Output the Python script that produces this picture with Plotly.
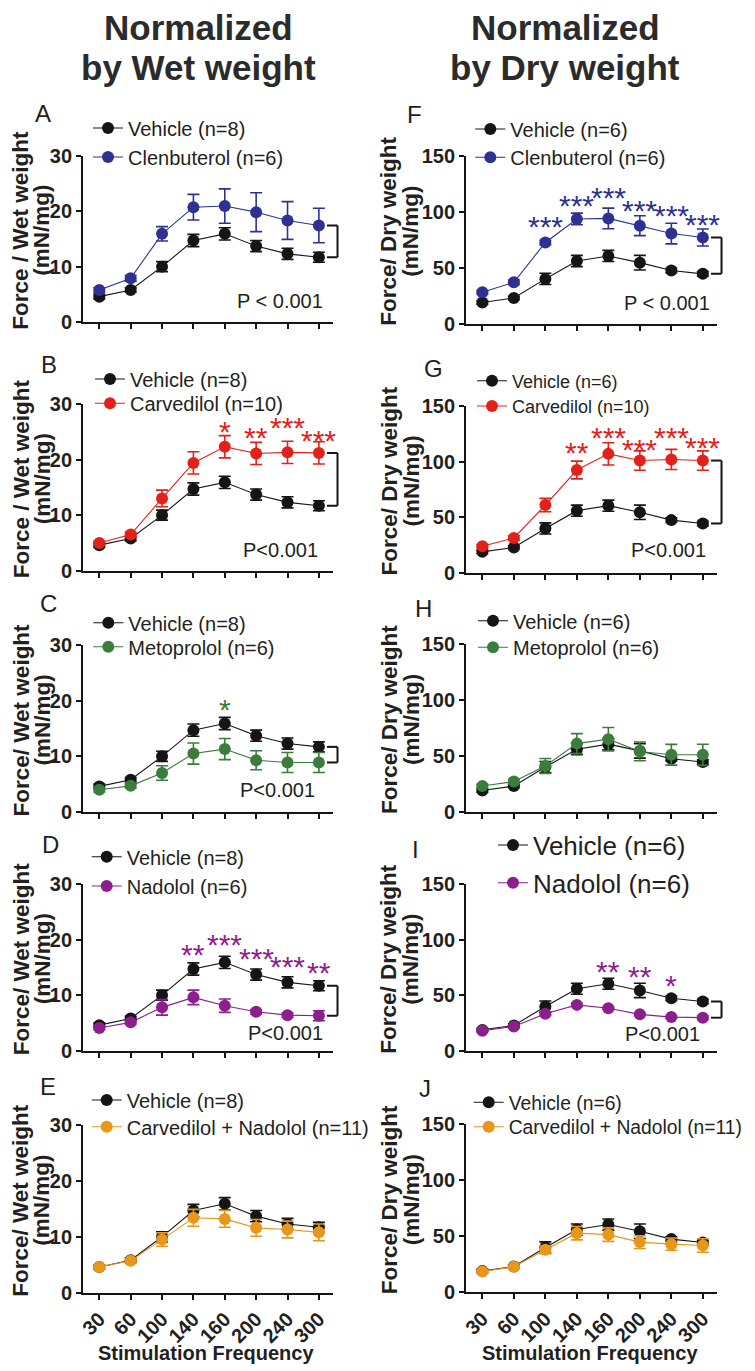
import plotly.graph_objects as go

W, H = 755, 1371
OFF = 8                      # page body margin around the plot div
FW, FH = W - OFF, H - OFF    # figure size so that the page fits the window
FONT = "Liberation Sans, Arial, Helvetica, sans-serif"
TXT = "#231f20"

# ---------------- data ----------------
freq_labels = ["30", "60", "100", "140", "160", "200", "240", "300"]
x_idx = list(range(len(freq_labels)))

veh_wet = [4.6, 5.8, 10.0, 14.7, 15.9, 13.7, 12.3, 11.7]
veh_wet_err = [0.4, 0.4, 0.9, 1.1, 1.1, 1.0, 1.0, 0.9]
veh_dry = [19.0, 23.0, 40.0, 56.0, 60.5, 54.5, 47.5, 44.5]
veh_dry_err = [1.5, 1.5, 5.0, 5.0, 5.0, 6.5, 2.0, 2.0]

clen_wet = [5.8, 7.9, 15.9, 20.7, 20.9, 19.8, 18.3, 17.4]
clen_wet_err = [0.4, 0.5, 1.3, 2.3, 3.1, 3.5, 3.4, 3.1]
clen_dry = [28.0, 37.0, 72.5, 93.5, 94.0, 87.5, 80.5, 77.0]
clen_dry_err = [1.5, 2.0, 2.0, 5.2, 9.2, 8.9, 9.2, 7.6]

carv_wet = [5.0, 6.5, 13.0, 19.4, 22.3, 21.1, 21.3, 21.2]
carv_wet_err = [0.3, 0.4, 1.5, 2.0, 2.0, 2.0, 2.0, 2.0]
carv_dry = [24.0, 31.5, 61.0, 92.5, 107.0, 101.0, 102.0, 101.0]
carv_dry_err = [1.5, 2.0, 6.0, 8.0, 10.0, 8.7, 9.0, 8.7]

meto_wet = [4.0, 4.7, 7.0, 10.5, 11.3, 9.3, 8.9, 8.9]
meto_wet_err = [0.4, 0.4, 1.3, 1.9, 1.9, 1.7, 1.8, 1.8]
meto_dry = [23.0, 27.0, 41.0, 61.0, 65.0, 54.0, 51.0, 51.0]
meto_dry_err = [1.5, 2.0, 6.7, 9.0, 10.5, 8.4, 9.3, 9.5]

nad_wet = [4.1, 5.1, 7.8, 9.6, 8.1, 7.0, 6.4, 6.3]
nad_wet_err = [0.3, 0.3, 1.4, 1.3, 1.2, 0.4, 0.4, 0.9]
nad_dry = [18.3, 22.0, 33.5, 41.5, 38.5, 33.0, 30.5, 30.0]
nad_dry_err = [1.0, 1.0, 1.5, 1.5, 1.0, 1.0, 1.0, 1.5]

cn_wet = [4.6, 5.7, 9.5, 13.4, 13.2, 11.6, 11.3, 10.8]
cn_wet_err = [0.3, 0.3, 1.2, 1.5, 1.5, 1.5, 1.5, 1.5]
cn_dry = [18.5, 22.8, 38.0, 52.8, 51.5, 44.8, 43.0, 41.8]
cn_dry_err = [1.0, 1.0, 3.5, 6.0, 6.0, 5.7, 5.5, 6.0]

stars_none = ["", "", "", "", "", "", "", ""]
stars_B = ["", "", "", "", "*", "**", "***", "***"]
stars_C = ["", "", "", "", "*", "", "", ""]
stars_D = ["", "", "", "**", "***", "***", "***", "**"]
stars_F = ["", "", "***", "***", "***", "***", "***", "***"]
stars_G = ["", "", "", "**", "***", "***", "***", "***"]
stars_I = ["", "", "", "", "**", "**", "*", ""]

wet_ticks = [0, 10, 20, 30]
dry_ticks = [0, 50, 100, 150]

# ---------------- styles / layout config ----------------
BLACK = "#151515"
BLUE = "#2E3192"
RED = "#E3211B"
GREEN = "#3B7D3C"
PURPLE = "#8D1E8D"
ORANGE = "#E8961C"

COLX = [(83, 333), (466, 717)]

# pixel lift of each star label above the highest error bar
lift_none = [0] * 8
lift_B = [0, 0, 0, 0, 8, 9, 18, 5]
lift_C = [0, 0, 0, 0, 11.6, 0, 0, 0]
lift_D = [0, 0, 0, 12.8, 16, 14.8, 14, 12.6]
lift_F = [0, 0, 18, 11.5, 14.7, 9, 11.3, 8.8]
lift_G = [0, 0, 0, 12.7, 9.7, 5.6, 16, 7.6]
lift_I = [0, 0, 0, 0, 10.7, 10.8, 14.6, 0]

panels = [
    dict(L="A", col=0, top=155.5, bot=322.2, ticks=wet_ticks, veh=veh_wet, veh_err=veh_wet_err, vname="Vehicle (n=8)",
         drug=clen_wet, drug_err=clen_wet_err, dname="Clenbuterol (n=6)", color=BLUE, stars=stars_none, lift=lift_none,
         ytitle="Force / Wet weight", pval="P < 0.001", ppos=(325, 301), bracket=True,
         leg=[(108, 128), (108, 157)], lf=20, lpos=(33, 113.5), xlab=False),
    dict(L="B", col=0, top=404, bot=570.7, ticks=wet_ticks, veh=veh_wet, veh_err=veh_wet_err, vname="Vehicle (n=8)",
         drug=carv_wet, drug_err=carv_wet_err, dname="Carvedilol (n=10)", color=RED, stars=stars_B, lift=lift_B,
         ytitle="Force / Wet weight", pval="P<0.001", ppos=(320, 550.5), bracket=True,
         leg=[(110, 379), (110, 403.3)], lf=20, lpos=(39, 364), xlab=False),
    dict(L="C", col=0, top=645, bot=812, ticks=wet_ticks, veh=veh_wet, veh_err=veh_wet_err, vname="Vehicle (n=8)",
         drug=meto_wet, drug_err=meto_wet_err, dname="Metoprolol (n=6)", color=GREEN, stars=stars_C, lift=lift_C,
         ytitle="Force/ Wet weight", pval="P<0.001", ppos=(317, 790), bracket=True,
         leg=[(108.3, 622.7), (108.3, 646.7)], lf=20, lpos=(38, 604), xlab=False),
    dict(L="D", col=0, top=884, bot=1050.7, ticks=wet_ticks, veh=veh_wet, veh_err=veh_wet_err, vname="Vehicle (n=8)",
         drug=nad_wet, drug_err=nad_wet_err, dname="Nadolol (n=6)", color=PURPLE, stars=stars_D, lift=lift_D,
         ytitle="Force/ Wet weight", pval="P<0.001", ppos=(325, 1032.5), bracket=True,
         leg=[(106.7, 856.7), (106.7, 886)], lf=20, lpos=(40, 845), xlab=False),
    dict(L="E", col=0, top=1125, bot=1292.7, ticks=wet_ticks, veh=veh_wet, veh_err=veh_wet_err, vname="Vehicle (n=8)",
         drug=cn_wet, drug_err=cn_wet_err, dname="Carvedilol + Nadolol (n=11)", color=ORANGE, stars=stars_none, lift=lift_none,
         ytitle="Force/ Wet weight", pval=None, ppos=None, bracket=False,
         leg=[(106.7, 1100), (106.7, 1126.7)], lf=20, lpos=(38, 1086.5), xlab=True),
    dict(L="F", col=1, top=155.7, bot=323.7, ticks=dry_ticks, veh=veh_dry, veh_err=veh_dry_err, vname="Vehicle (n=6)",
         drug=clen_dry, drug_err=clen_dry_err, dname="Clenbuterol (n=6)", color=BLUE, stars=stars_F, lift=lift_F,
         ytitle="Force/ Dry weight", pval="P < 0.001", ppos=(712, 302.5), bracket=True,
         leg=[(490.3, 129), (490.3, 157.3)], lf=20, lpos=(405, 114.5), xlab=False),
    dict(L="G", col=1, top=406, bot=573, ticks=dry_ticks, veh=veh_dry, veh_err=veh_dry_err, vname="Vehicle (n=6)",
         drug=carv_dry, drug_err=carv_dry_err, dname="Carvedilol (n=10)", color=RED, stars=stars_G, lift=lift_G,
         ytitle="Force/ Dry weight", pval="P<0.001", ppos=(708, 550.5), bracket=True,
         leg=[(492, 380.7), (492, 406)], lf=18, lpos=(422, 368.5), xlab=False),
    dict(L="H", col=1, top=644.3, bot=811.7, ticks=dry_ticks, veh=veh_dry, veh_err=veh_dry_err, vname="Vehicle (n=6)",
         drug=meto_dry, drug_err=meto_dry_err, dname="Metoprolol (n=6)", color=GREEN, stars=stars_none, lift=lift_none,
         ytitle="Force/ Dry weight", pval=None, ppos=None, bracket=False,
         leg=[(493, 620.7), (493, 647.3)], lf=20, lpos=(413, 608.5), xlab=False),
    dict(L="I", col=1, top=884.3, bot=1051, ticks=dry_ticks, veh=veh_dry, veh_err=veh_dry_err, vname="Vehicle (n=6)",
         drug=nad_dry, drug_err=nad_dry_err, dname="Nadolol (n=6)", color=PURPLE, stars=stars_I, lift=lift_I,
         ytitle="Force/ Dry weight", pval="P<0.001", ppos=(702, 1033.5), bracket=True,
         leg=[(513, 845), (513, 882.7)], lf=26, lpos=(410, 849), xlab=False),
    dict(L="J", col=1, top=1124.3, bot=1292.3, ticks=dry_ticks, veh=veh_dry, veh_err=veh_dry_err, vname="Vehicle (n=6)",
         drug=cn_dry, drug_err=cn_dry_err, dname="Carvedilol + Nadolol (n=11)", color=ORANGE, stars=stars_none, lift=lift_none,
         ytitle="Force/ Dry weight", pval=None, ppos=None, bracket=False,
         leg=[(488.7, 1102.3), (488.7, 1126.7)], lf=19.3, lpos=(417, 1088.5), xlab=True),
]


def fx(px):
    return (px - OFF) / FW


def fy(py):
    return 1 - (py - OFF) / FH


fig = go.Figure()
layout = dict(
    width=FW, height=FH,
    margin=dict(l=0, r=0, t=0, b=0, autoexpand=False),
    paper_bgcolor="white", plot_bgcolor="white",
    font=dict(family=FONT, color=TXT),
)
annotations = []
shapes = []
leg_n = 0

for i, p in enumerate(panels, start=1):
    sfx = "" if i == 1 else str(i)
    xa, ya = "x" + sfx, "y" + sfx
    x0px, x1px = COLX[p["col"]]
    ymax = p["ticks"][-1]

    layout["xaxis" + sfx] = dict(
        domain=[fx(x0px), fx(x1px)], anchor=ya, range=[-0.52, 7.45],
        tickmode="array", tickvals=x_idx, ticktext=freq_labels,
        showticklabels=p["xlab"], tickangle=-45,
        tickfont=dict(family=FONT, size=20, color=TXT, weight="bold"),
        ticks="outside", ticklen=5, tickwidth=1.6, tickcolor=BLACK,
        showline=True, linecolor=BLACK, linewidth=1.8,
        showgrid=False, zeroline=False, fixedrange=True,
    )
    layout["yaxis" + sfx] = dict(
        domain=[fy(p["bot"]), fy(p["top"])], anchor=xa, range=[0, ymax],
        tickmode="array", tickvals=p["ticks"],
        tickfont=dict(family=FONT, size=20, color=TXT, weight="bold"),
        ticks="outside", ticklen=5, tickwidth=1.6, tickcolor=BLACK,
        showline=True, linecolor=BLACK, linewidth=1.8,
        showgrid=False, zeroline=False, fixedrange=True,
    )

    series = [
        (p["veh"], p["veh_err"], p["vname"], BLACK, p["leg"][0]),
        (p["drug"], p["drug_err"], p["dname"], p["color"], p["leg"][1]),
    ]
    for vals, errs, name, color, (mx, my) in series:
        leg_n += 1
        lkey = "legend" if leg_n == 1 else f"legend{leg_n}"
        f = p["lf"]
        top = my - (5 + (1.3 * f + 3) / 2)
        layout[lkey] = dict(
            x=fx(mx - 20), y=fy(top), xanchor="left", yanchor="top",
            bgcolor="rgba(0,0,0,0)", borderwidth=0,
            font=dict(family=FONT, size=f, color=TXT),
            itemclick=False, itemdoubleclick=False,
        )
        fig.add_trace(go.Scatter(
            x=x_idx, y=vals, name=name, legend=lkey,
            xaxis=xa, yaxis=ya, mode="lines+markers",
            line=dict(color=color, width=1.1),
            marker=dict(color=color, size=12),
            error_y=dict(type="data", array=errs, visible=True, color=color, thickness=1.6, width=6),
            cliponaxis=False, showlegend=True, hoverinfo="skip",
        ))

    # significance stars
    for k, s in enumerate(p["stars"]):
        if s:
            upper = max(p["veh"][k] + p["veh_err"][k], p["drug"][k] + p["drug_err"][k])
            annotations.append(dict(
                x=k, y=upper, xref=xa, yref=ya, text=s, showarrow=False,
                xanchor="center", yanchor="middle", yshift=p["lift"][k] - 4,
                font=dict(family=FONT, size=30, color=p["color"]),
            ))

    # bracket joining the last two points
    if p["bracket"]:
        yv, yd = p["veh"][-1], p["drug"][-1]
        bx0, bx1 = 0.976, 1.018
        xdom = xa + " domain"
        line = dict(color=BLACK, width=2)
        shapes.append(dict(type="line", xref=xdom, yref=ya, x0=bx0, x1=bx1, y0=yd, y1=yd, line=line))
        shapes.append(dict(type="line", xref=xdom, yref=ya, x0=bx1, x1=bx1, y0=yv, y1=yd, line=line))
        shapes.append(dict(type="line", xref=xdom, yref=ya, x0=bx0, x1=bx1, y0=yv, y1=yv, line=line))

    # p-value
    if p["pval"]:
        annotations.append(dict(
            x=fx(p["ppos"][0]), y=fy(p["ppos"][1]), xref="paper", yref="paper",
            text=p["pval"], showarrow=False, xanchor="right", yanchor="middle",
            font=dict(family=FONT, size=20, color=TXT),
        ))

    # panel letter
    annotations.append(dict(
        x=fx(p["lpos"][0]), y=fy(p["lpos"][1]), xref="paper", yref="paper",
        text=p["L"], showarrow=False, xanchor="left", yanchor="middle",
        font=dict(family=FONT, size=24, color=TXT),
    ))

    # y-axis title (two lines)
    yc = (p["top"] + p["bot"]) / 2 - 8
    lx1, lx2 = (21, 42) if p["col"] == 0 else (389, 411)
    for txt, lx in ((p["ytitle"], lx1), ("(mN/mg)", lx2)):
        annotations.append(dict(
            x=fx(lx), y=fy(yc), xref="paper", yref="paper", text=txt,
            showarrow=False, textangle=-90, xanchor="center", yanchor="middle",
            borderpad=0,
            font=dict(family=FONT, size=22.5, color=TXT, weight="bold"),
        ))

    # x-axis title for bottom row
    if p["xlab"]:
        annotations.append(dict(
            x=fx((x0px + x1px) / 2 - 1.5), y=fy(1352.5), xref="paper", yref="paper",
            text="Stimulation Frequency", showarrow=False, xanchor="center", yanchor="middle",
            font=dict(family=FONT, size=20, color=TXT, weight="bold"),
        ))

# column headers
for cx, l1, l2 in ((198, "Normalized", "by Wet weight"), (565, "Normalized", "by Dry weight")):
    for txt, cy in ((l1, 27.8), (l2, 67.4)):
        annotations.append(dict(
            x=fx(cx), y=fy(cy), xref="paper", yref="paper", text=txt,
            showarrow=False, xanchor="center", yanchor="middle", borderpad=0,
            font=dict(family=FONT, size=35, color="#2b2b2b", weight="bold"),
        ))

layout["annotations"] = annotations
layout["shapes"] = shapes
fig.update_layout(**layout)
fig.write_html("out.html")
